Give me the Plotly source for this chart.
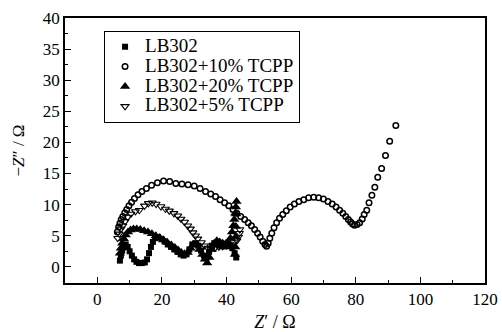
import plotly.graph_objects as go

# ---- data ----
series_names = ["LB302", "LB302+10% TCPP", "LB302+20% TCPP", "LB302+5% TCPP"]

sq_x = [7.0, 7.3, 7.7, 8.2, 8.8, 9.4, 10.0, 10.7, 11.4, 12.1, 12.9, 13.8, 14.7, 15.4, 16.0, 16.6,
        17.2, 17.9, 18.8, 19.8, 20.8, 21.8, 22.8, 23.8, 24.8, 25.8, 26.7, 27.6, 28.5, 29.4, 30.3,
        31.2, 32.1, 33.0, 33.8, 34.6, 35.4, 36.2, 37.0, 37.8, 38.6, 39.4, 40.2, 41.0, 41.8, 42.5, 43.0]
sq_y = [1.0, 1.8, 2.6, 3.2, 3.6, 3.2, 2.5, 1.8, 1.2, 0.8, 0.6, 0.6, 0.7, 1.2, 2.2, 3.2,
        4.0, 4.6, 4.8, 4.5, 4.1, 3.6, 3.2, 2.8, 2.4, 2.0, 1.8, 2.0, 2.8, 3.6, 3.8,
        3.4, 2.6, 1.8, 1.5, 2.4, 3.4, 3.8, 3.6, 3.4, 3.3, 3.4, 3.3, 3.4, 3.0, 2.2, 1.5]

c_x = [6.2, 6.6, 7.0, 7.4, 7.9, 8.5, 9.1, 9.8, 10.6, 11.5, 12.6, 13.8, 15.2, 16.8, 18.6, 20.5,
       22.4, 24.3, 26.2, 28.1, 30.0, 31.8, 33.5, 35.1, 36.6, 38.0, 39.4, 40.7, 42.0, 43.2, 44.4,
       45.6, 46.7, 47.7, 48.7, 49.6, 50.4, 51.2, 51.9, 52.4, 52.9, 53.4, 54.0, 54.7, 55.5, 56.4,
       57.4, 58.5, 59.7, 61.0, 62.4, 63.9, 65.4, 67.0, 68.5, 70.0, 71.4, 72.7, 73.9, 75.0, 76.0,
       76.9, 77.7, 78.4, 79.0, 79.6, 80.4, 81.2, 82.0, 82.6, 83.4, 84.1, 85.0, 85.9, 86.8, 88.0,
       89.2, 90.5, 92.4]
c_y = [5.6, 6.4, 7.0, 7.6, 8.1, 8.7, 9.2, 9.8, 10.4, 11.0, 11.6, 12.1, 12.6, 13.1, 13.5, 13.8,
       13.7, 13.4, 13.3, 13.2, 13.0, 12.6, 12.1, 11.7, 11.3, 10.8, 10.3, 9.8, 9.2, 8.6, 8.1,
       7.6, 7.1, 6.6, 6.0, 5.4, 4.8, 4.1, 3.6, 3.3, 3.8, 4.6, 5.4, 6.3, 7.1, 7.8,
       8.4, 9.0, 9.6, 10.1, 10.5, 10.8, 11.1, 11.2, 11.1, 10.9, 10.5, 10.1, 9.6, 9.1, 8.6,
       8.1, 7.6, 7.2, 6.9, 6.7, 6.8, 7.1, 7.7, 8.4, 9.1, 10.3, 11.5, 12.8, 14.4, 15.8,
       17.9, 20.2, 22.7]

tu_x = [7.0, 7.3, 7.7, 8.2, 8.8, 9.5, 10.3, 11.2, 12.2, 13.3, 14.5, 15.7, 16.9, 18.1, 19.3,
        20.5, 21.7, 22.9, 24.0, 25.0, 26.0, 27.0, 28.0, 28.9, 29.8, 30.7, 31.6, 32.5, 33.3,
        34.0, 34.7, 35.4, 36.2, 37.0, 37.9, 38.8, 39.7, 40.5, 41.2, 41.7, 42.1, 42.4, 42.7,
        42.9, 43.1, 43.0, 42.9, 42.8, 42.7, 42.6]
tu_y = [2.2, 3.0, 3.8, 4.5, 5.1, 5.6, 5.9, 6.1, 6.1, 6.0, 5.8, 5.6, 5.3, 5.0, 4.7,
        4.3, 3.9, 3.5, 3.1, 2.7, 2.3, 2.1, 2.3, 3.0, 3.6, 3.5, 2.8, 2.0, 1.2,
        0.6, 1.5, 2.8, 3.8, 4.2, 4.0, 3.8, 3.7, 3.9, 4.6, 5.6, 6.6, 7.6, 8.6,
        9.6, 10.5, 8.5, 6.5, 4.8, 3.2, 2.0]

td_x = [6.3, 6.8, 7.3, 7.9, 8.6, 9.4, 10.4, 11.8, 13.0, 14.6, 15.8, 17.0, 18.2, 19.7, 21.1,
        22.3, 23.7, 24.9, 25.9, 27.0, 28.0, 28.8, 29.6, 30.4, 31.1, 32.2, 33.2, 34.2, 35.2,
        36.4, 37.6, 38.8, 40.0, 41.2, 42.3, 43.2, 43.7, 44.0, 44.1]
td_y = [4.6, 5.3, 6.1, 6.6, 7.3, 8.0, 8.5, 8.9, 9.1, 9.8, 10.2, 10.3, 10.1, 9.7, 9.3,
        9.0, 8.6, 8.2, 7.7, 7.2, 6.6, 6.1, 5.5, 5.0, 4.5, 3.9, 3.4, 3.0, 2.8,
        3.0, 3.2, 3.3, 3.4, 3.6, 3.9, 4.2, 4.8, 5.4, 6.0]

x_tick_vals = [0, 20, 40, 60, 80, 100, 120]
y_tick_vals = [0, 5, 10, 15, 20, 25, 30, 35, 40]

FONT = "Liberation Serif, Tinos, Times New Roman, DejaVu Serif, serif"


def lbl(s):
    return '<span style="font-size:19px">' + s + '</span>'


fig = go.Figure()
fig.add_trace(go.Scatter(x=sq_x, y=sq_y, mode="markers", name=lbl(series_names[0]),
                         marker=dict(symbol="square", size=6, color="black", line=dict(width=0))))
fig.add_trace(go.Scatter(x=c_x, y=c_y, mode="markers", name=lbl(series_names[1]),
                         marker=dict(symbol="circle-open", size=5.5, color="black", line=dict(width=1.5))))
fig.add_trace(go.Scatter(x=tu_x, y=tu_y, mode="markers", name=lbl(series_names[2]),
                         marker=dict(symbol="triangle-up", size=9, color="black", line=dict(width=0))))
fig.add_trace(go.Scatter(x=td_x, y=td_y, mode="markers", name=lbl(series_names[3]),
                         marker=dict(symbol="triangle-down-open", size=7, color="black", line=dict(width=1.1))))

axis_common = dict(
    showgrid=False, zeroline=False, showline=True, linecolor="black", linewidth=1.5,
    mirror=True, ticks="inside", ticklen=6, tickwidth=1, tickcolor="black",
    tickfont=dict(family=FONT, size=17, color="black"), automargin=False,
)

fig.update_xaxes(range=[-10, 120], tickvals=x_tick_vals, ticklabeloverflow="allow",
                 minor=dict(dtick=10, tick0=0, ticks="inside", ticklen=3, tickcolor="black"),
                 title=dict(text="<i>Z</i>′ / Ω", font=dict(family=FONT, size=18, color="black"),
                            standoff=8),
                 **axis_common)
fig.update_yaxes(range=[-2.6, 40], tickvals=y_tick_vals,
                 minor=dict(dtick=2.5, tick0=0, ticks="inside", ticklen=3, tickcolor="black"),
                 title=dict(text="−<i>Z</i>″ / Ω", font=dict(family=FONT, size=17, color="black"),
                            standoff=14),
                 **axis_common)

fig.update_layout(
    width=502, height=332,
    margin=dict(l=65, r=17, t=18, b=49),
    paper_bgcolor="white", plot_bgcolor="white",
    font=dict(family=FONT, color="black"),
    showlegend=True,
    legend=dict(x=0.093, y=0.952, xanchor="left", yanchor="top",
                bgcolor="white", bordercolor="black", borderwidth=1,
                font=dict(family=FONT, size=13, color="black"),
                tracegroupgap=0, itemsizing="trace"),
)

fig.write_html("out.html", config={"displayModeBar": False},
               post_script="document.body.style.margin='0';document.body.style.overflow='hidden';")
